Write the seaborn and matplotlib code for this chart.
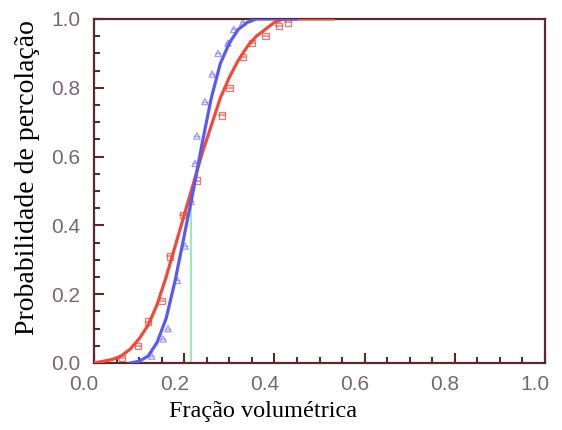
import numpy as np
import pandas as pd
import matplotlib
matplotlib.use("Agg")
import matplotlib.pyplot as plt
import matplotlib.transforms as mtransforms
from matplotlib.ticker import MultipleLocator
import seaborn as sns

# Fitted percolation curves (volume fraction vs. probability)
blue_fit_x = [0.08, 0.10, 0.12, 0.14, 0.16, 0.18, 0.20, 0.22, 0.24, 0.26,
              0.28, 0.30, 0.32, 0.34, 0.36, 0.45]
blue_fit_y = [0.00, 0.005, 0.02, 0.06, 0.13, 0.24, 0.37, 0.50, 0.64, 0.77,
              0.87, 0.93, 0.97, 0.99, 1.00, 1.00]

red_fit_x = [0.00, 0.04, 0.06, 0.08, 0.10, 0.12, 0.14, 0.16, 0.18, 0.20, 0.22,
             0.24, 0.26, 0.28, 0.30, 0.32, 0.34, 0.36, 0.38, 0.40, 0.42, 0.53]
red_fit_y = [0.00, 0.01, 0.02, 0.04, 0.07, 0.11, 0.17, 0.25, 0.34, 0.43, 0.52,
             0.61, 0.69, 0.77, 0.83, 0.88, 0.92, 0.95, 0.97, 0.99, 1.00, 1.00]

# Simulation samples
blue_pts_x = [0.128, 0.153, 0.164, 0.185, 0.202, 0.215, 0.224, 0.228, 0.246,
              0.262, 0.275, 0.297, 0.31, 0.33]
blue_pts_y = [0.02, 0.07, 0.10, 0.24, 0.34, 0.47, 0.58, 0.66, 0.76,
              0.84, 0.90, 0.93, 0.97, 0.99]

red_pts_x = [0.062, 0.098, 0.12, 0.15, 0.168, 0.197, 0.228, 0.284, 0.30,
             0.33, 0.35, 0.38, 0.41, 0.43]
red_pts_y = [0.015, 0.05, 0.12, 0.18, 0.31, 0.43, 0.53, 0.72, 0.80,
             0.89, 0.93, 0.95, 0.98, 0.99]

# Percolation threshold marker
threshold_x = 0.215
threshold_top = 0.46

x_ticks = [0.0, 0.2, 0.4, 0.6, 0.8, 1.0]
y_ticks = [0.0, 0.2, 0.4, 0.6, 0.8, 1.0]

sns.set_theme(style="white")
plt.rcParams["font.family"] = ["Liberation Sans", "DejaVu Sans"]

RED = "#f04a3a"
BLUE = "#5a5af0"
SPINE = "#5a2a2e"
TICKLBL = "#7a6670"

fig = plt.figure(figsize=(5.62, 4.30), dpi=100)
ax = fig.add_axes([94 / 562, 1 - 363 / 430, (545 - 94) / 562, (363 - 19) / 430])

blue_fit = pd.DataFrame({"x": blue_fit_x, "y": blue_fit_y})
red_fit = pd.DataFrame({"x": red_fit_x, "y": red_fit_y})
blue_pts = pd.DataFrame({"x": blue_pts_x, "y": blue_pts_y})
red_pts = pd.DataFrame({"x": red_pts_x, "y": red_pts_y})

ax.plot([threshold_x, threshold_x], [0, threshold_top], color="#8fe8b0",
        lw=1.3, zorder=1)

sns.scatterplot(data=red_pts, x="x", y="y", ax=ax, marker="s", s=22,
                facecolor="none", edgecolor=RED, linewidth=0.9, alpha=0.75,
                zorder=2)
ax.errorbar(red_pts_x, red_pts_y, xerr=0.008, fmt="none", ecolor=RED,
            elinewidth=1.2, alpha=0.65, zorder=2)
sns.scatterplot(data=blue_pts, x="x", y="y", ax=ax, marker="^", s=20,
                facecolor="none", edgecolor=BLUE, linewidth=0.9, alpha=0.6,
                zorder=2)
ax.errorbar(blue_pts_x, blue_pts_y, xerr=0.006, fmt="none", ecolor=BLUE,
            elinewidth=1.0, alpha=0.45, zorder=2)

sns.lineplot(data=red_fit, x="x", y="y", ax=ax, color=RED, lw=2.3,
             sort=True, zorder=3)
sns.lineplot(data=blue_fit, x="x", y="y", ax=ax, color=BLUE, lw=2.3,
             sort=True, zorder=3)

ax.set_xlim(0, 1)
ax.set_ylim(0, 1)
ax.set_xticks(x_ticks)
ax.set_yticks(y_ticks)
ax.set_xticklabels([f"{v:.1f}" for v in x_ticks])
ax.set_yticklabels([f"{v:.1f}" for v in y_ticks])
ax.xaxis.set_minor_locator(MultipleLocator(0.05))
ax.yaxis.set_minor_locator(MultipleLocator(0.05))
ax.tick_params(which="major", direction="in", length=7, width=1.5,
               color=SPINE, labelsize=15, labelcolor=TICKLBL,
               bottom=True, left=True)
ax.tick_params(axis="x", which="major", pad=9)
ax.tick_params(axis="y", which="major", pad=10)
ax.tick_params(which="minor", direction="in", length=4, width=1.5,
               color=SPINE, bottom=True, left=True)

# x tick labels sit slightly left of their ticks
shift = mtransforms.ScaledTranslation(-10 / 100, 0, fig.dpi_scale_trans)
for lbl in ax.get_xticklabels():
    lbl.set_transform(lbl.get_transform() + shift)

for sp in ax.spines.values():
    sp.set_color(SPINE)
    sp.set_linewidth(1.6)

ax.set_xlabel("Fração volumétrica", family="Liberation Serif", fontsize=17.5,
              color="black")
ax.set_ylabel("Probabilidade de percolação", family="Liberation Serif",
              fontsize=20, color="black")
ax.xaxis.set_label_coords(0.375, -0.11)
ax.yaxis.set_label_coords(-0.12, 0.54)

fig.savefig("out.png", dpi=100)
